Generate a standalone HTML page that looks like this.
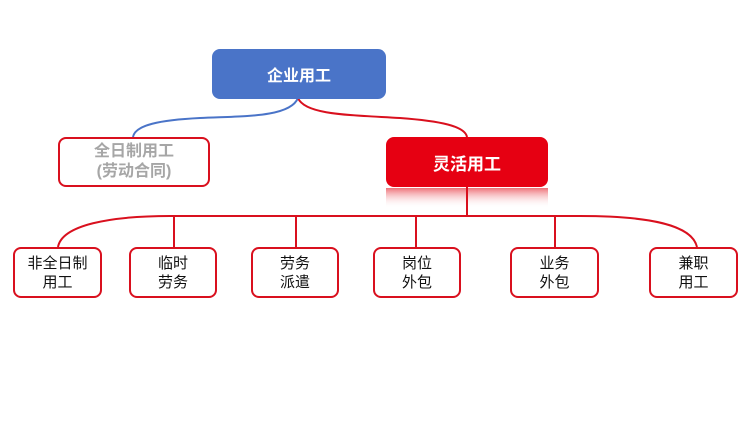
<!DOCTYPE html>
<html><head><meta charset="utf-8"><style>
body{margin:0;width:754px;height:430px;background:#fff;overflow:hidden;position:relative;font-family:"Liberation Sans","Noto Sans CJK SC",sans-serif}
.b{position:absolute;box-sizing:border-box;display:flex;align-items:center;justify-content:center;text-align:center;border-radius:8px}
.s{border:2px solid #d9101e;background:#fff;font-size:15px;line-height:19px;color:#111}
</style></head><body>
<svg width="754" height="430" style="position:absolute;left:0;top:0">
<defs><linearGradient id="r" x1="0" y1="0" x2="0" y2="1"><stop offset="0" stop-color="#e8404a" stop-opacity=".75"/><stop offset="1" stop-color="#fff" stop-opacity="0"/></linearGradient></defs>
<rect x="386" y="188" width="162" height="20" fill="url(#r)"/>
<path d="M298 98 C290 118 240 116 200 118 C160 120 135 125 133 137" stroke="#4a74c8" stroke-width="2" fill="none"/>
<path d="M298 98 C305 115 350 115 400 118 C440 121 465 126 467 137" stroke="#d9101e" stroke-width="2" fill="none"/>
<path d="M467 186 V216" stroke="#d9101e" stroke-width="2"/>
<path d="M58 247 C62 225 110 216 170 216 H580 C650 216 692 225 697 247" stroke="#d9101e" stroke-width="2" fill="none"/>
<path d="M174 216V247M296 216V247M416 216V247M555 216V247" stroke="#d9101e" stroke-width="2"/>
</svg>
<div class="b" style="left:212px;top:49px;width:174px;height:50px;background:#4a74c8;color:#fff;font-weight:bold;font-size:16px">企业用工</div>
<div class="b" style="left:58px;top:137px;width:152px;height:50px;border:2px solid #d9101e;background:#fff;color:#a6a6a6;font-weight:bold;font-size:16px;line-height:20px">全日制用工<br>(劳动合同)</div>
<div class="b" style="left:386px;top:137px;width:162px;height:50px;background:#e60012;color:#fff;font-weight:bold;font-size:17px">灵活用工</div>
<div class="b s" style="left:13px;top:247px;width:89px;height:51px">非全日制<br>用工</div>
<div class="b s" style="left:129px;top:247px;width:88px;height:51px">临时<br>劳务</div>
<div class="b s" style="left:251px;top:247px;width:88px;height:51px">劳务<br>派遣</div>
<div class="b s" style="left:373px;top:247px;width:88px;height:51px">岗位<br>外包</div>
<div class="b s" style="left:510px;top:247px;width:89px;height:51px">业务<br>外包</div>
<div class="b s" style="left:649px;top:247px;width:89px;height:51px">兼职<br>用工</div>
</body></html>
